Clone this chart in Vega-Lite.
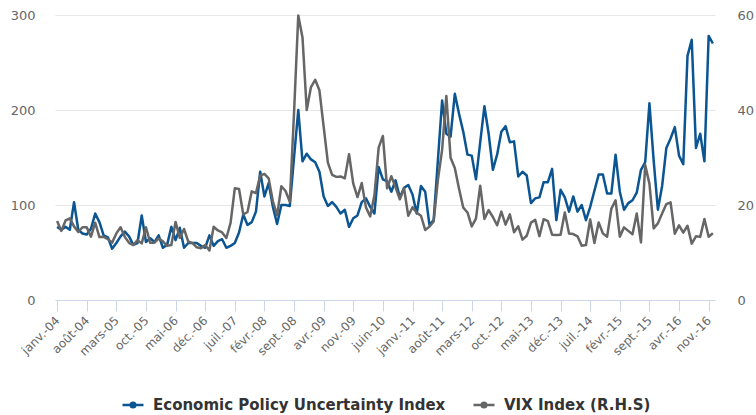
{
  "$schema": "https://vega.github.io/schema/vega-lite/v6.json",
  "width": 660,
  "height": 285,
  "autosize": {"type": "none"},
  "padding": {"left": 55, "top": 15, "right": 41, "bottom": 115},
  "background": "white",
  "config": {
    "view": {"stroke": null},
    "font": "DejaVu Sans"
  },
  "data": {
    "values": [
      {"m": "janv.-04", "epu": 77, "vix": 16.63},
      {"m": "févr.-04", "epu": 74, "vix": 14.55},
      {"m": "mars-04", "epu": 77, "vix": 16.74},
      {"m": "avr.-04", "epu": 74, "vix": 17.19},
      {"m": "mai-04", "epu": 103, "vix": 15.50},
      {"m": "juin-04", "epu": 74, "vix": 14.34},
      {"m": "juil.-04", "epu": 70, "vix": 15.32},
      {"m": "août-04", "epu": 69, "vix": 15.29},
      {"m": "sept.-04", "epu": 75, "vix": 13.34},
      {"m": "oct.-04", "epu": 91, "vix": 16.27},
      {"m": "nov.-04", "epu": 82, "vix": 13.24},
      {"m": "déc.-04", "epu": 68, "vix": 13.29},
      {"m": "janv.-05", "epu": 66, "vix": 12.82},
      {"m": "févr.-05", "epu": 54, "vix": 12.08},
      {"m": "mars-05", "epu": 60, "vix": 14.02},
      {"m": "avr.-05", "epu": 67, "vix": 15.31},
      {"m": "mai-05", "epu": 72, "vix": 13.29},
      {"m": "juin-05", "epu": 67, "vix": 12.04},
      {"m": "juil.-05", "epu": 58, "vix": 11.57},
      {"m": "août-05", "epu": 60, "vix": 12.60},
      {"m": "sept.-05", "epu": 89, "vix": 11.92},
      {"m": "oct.-05", "epu": 61, "vix": 15.32},
      {"m": "nov.-05", "epu": 65, "vix": 12.06},
      {"m": "déc.-05", "epu": 61, "vix": 12.07},
      {"m": "janv.-06", "epu": 68, "vix": 12.95},
      {"m": "févr.-06", "epu": 55, "vix": 12.34},
      {"m": "mars-06", "epu": 58, "vix": 11.39},
      {"m": "avr.-06", "epu": 77, "vix": 11.59},
      {"m": "mai-06", "epu": 63, "vix": 16.44},
      {"m": "juin-06", "epu": 76, "vix": 13.08},
      {"m": "juil.-06", "epu": 55, "vix": 14.95},
      {"m": "août-06", "epu": 60, "vix": 12.31},
      {"m": "sept.-06", "epu": 60, "vix": 11.98},
      {"m": "oct.-06", "epu": 60, "vix": 11.10},
      {"m": "nov.-06", "epu": 57, "vix": 10.91},
      {"m": "déc.-06", "epu": 55, "vix": 11.56},
      {"m": "janv.-07", "epu": 68, "vix": 10.42},
      {"m": "févr.-07", "epu": 57, "vix": 15.42},
      {"m": "mars-07", "epu": 62, "vix": 14.64},
      {"m": "avr.-07", "epu": 64, "vix": 14.22},
      {"m": "mai-07", "epu": 55, "vix": 13.05},
      {"m": "juin-07", "epu": 57, "vix": 16.23},
      {"m": "juil.-07", "epu": 60, "vix": 23.52},
      {"m": "août-07", "epu": 71, "vix": 23.38},
      {"m": "sept.-07", "epu": 90, "vix": 18.00},
      {"m": "oct.-07", "epu": 79, "vix": 18.53},
      {"m": "nov.-07", "epu": 82, "vix": 22.87},
      {"m": "déc.-07", "epu": 93, "vix": 22.50},
      {"m": "janv.-08", "epu": 135, "vix": 26.20},
      {"m": "févr.-08", "epu": 109, "vix": 26.54},
      {"m": "mars-08", "epu": 123, "vix": 25.61},
      {"m": "avr.-08", "epu": 98, "vix": 20.79},
      {"m": "mai-08", "epu": 80, "vix": 17.83},
      {"m": "juin-08", "epu": 100, "vix": 23.95},
      {"m": "juil.-08", "epu": 100, "vix": 22.94},
      {"m": "août-08", "epu": 99, "vix": 20.65},
      {"m": "sept.-08", "epu": 150, "vix": 39.39},
      {"m": "oct.-08", "epu": 200, "vix": 59.89},
      {"m": "nov.-08", "epu": 146, "vix": 55.28},
      {"m": "déc.-08", "epu": 154, "vix": 40.00},
      {"m": "janv.-09", "epu": 148, "vix": 44.84},
      {"m": "févr.-09", "epu": 145, "vix": 46.35},
      {"m": "mars-09", "epu": 135, "vix": 44.14},
      {"m": "avr.-09", "epu": 109, "vix": 36.50},
      {"m": "mai-09", "epu": 99, "vix": 28.92},
      {"m": "juin-09", "epu": 103, "vix": 26.35},
      {"m": "juil.-09", "epu": 98, "vix": 25.92},
      {"m": "août-09", "epu": 91, "vix": 26.01},
      {"m": "sept.-09", "epu": 95, "vix": 25.61},
      {"m": "oct.-09", "epu": 77, "vix": 30.69},
      {"m": "nov.-09", "epu": 86, "vix": 24.51},
      {"m": "déc.-09", "epu": 89, "vix": 21.68},
      {"m": "janv.-10", "epu": 103, "vix": 24.62},
      {"m": "févr.-10", "epu": 107, "vix": 19.50},
      {"m": "mars-10", "epu": 98, "vix": 17.59},
      {"m": "avr.-10", "epu": 91, "vix": 22.05},
      {"m": "mai-10", "epu": 140, "vix": 32.07},
      {"m": "juin-10", "epu": 127, "vix": 34.54},
      {"m": "juil.-10", "epu": 125, "vix": 23.50},
      {"m": "août-10", "epu": 114, "vix": 26.05},
      {"m": "sept.-10", "epu": 126, "vix": 23.70},
      {"m": "oct.-10", "epu": 108, "vix": 21.20},
      {"m": "nov.-10", "epu": 118, "vix": 23.54},
      {"m": "déc.-10", "epu": 121, "vix": 17.75},
      {"m": "janv.-11", "epu": 111, "vix": 19.53},
      {"m": "févr.-11", "epu": 91, "vix": 18.35},
      {"m": "mars-11", "epu": 120, "vix": 17.74},
      {"m": "avr.-11", "epu": 114, "vix": 14.75},
      {"m": "mai-11", "epu": 79, "vix": 15.45},
      {"m": "juin-11", "epu": 84, "vix": 16.52},
      {"m": "juil.-11", "epu": 147, "vix": 25.25},
      {"m": "août-11", "epu": 210, "vix": 31.62},
      {"m": "sept.-11", "epu": 175, "vix": 42.96},
      {"m": "oct.-11", "epu": 172, "vix": 29.96},
      {"m": "nov.-11", "epu": 217, "vix": 27.80},
      {"m": "déc.-11", "epu": 196, "vix": 23.40},
      {"m": "janv.-12", "epu": 177, "vix": 19.44},
      {"m": "févr.-12", "epu": 153, "vix": 18.43},
      {"m": "mars-12", "epu": 152, "vix": 15.50},
      {"m": "avr.-12", "epu": 127, "vix": 17.15},
      {"m": "mai-12", "epu": 166, "vix": 24.06},
      {"m": "juin-12", "epu": 204, "vix": 17.08},
      {"m": "juil.-12", "epu": 175, "vix": 18.93},
      {"m": "août-12", "epu": 137, "vix": 17.47},
      {"m": "sept.-12", "epu": 153, "vix": 15.73},
      {"m": "oct.-12", "epu": 177, "vix": 18.60},
      {"m": "nov.-12", "epu": 183, "vix": 15.87},
      {"m": "déc.-12", "epu": 166, "vix": 18.02},
      {"m": "janv.-13", "epu": 167, "vix": 14.28},
      {"m": "févr.-13", "epu": 130, "vix": 15.51},
      {"m": "mars-13", "epu": 135, "vix": 12.70},
      {"m": "avr.-13", "epu": 131, "vix": 13.52},
      {"m": "mai-13", "epu": 102, "vix": 16.30},
      {"m": "juin-13", "epu": 107, "vix": 16.86},
      {"m": "juil.-13", "epu": 108, "vix": 13.45},
      {"m": "août-13", "epu": 124, "vix": 17.01},
      {"m": "sept.-13", "epu": 124, "vix": 16.60},
      {"m": "oct.-13", "epu": 138, "vix": 13.75},
      {"m": "nov.-13", "epu": 84, "vix": 13.70},
      {"m": "déc.-13", "epu": 116, "vix": 13.72},
      {"m": "janv.-14", "epu": 108, "vix": 18.41},
      {"m": "févr.-14", "epu": 93, "vix": 14.00},
      {"m": "mars-14", "epu": 109, "vix": 13.88},
      {"m": "avr.-14", "epu": 93, "vix": 13.41},
      {"m": "mai-14", "epu": 100, "vix": 11.40},
      {"m": "juin-14", "epu": 84, "vix": 11.57},
      {"m": "juil.-14", "epu": 98, "vix": 16.95},
      {"m": "août-14", "epu": 115, "vix": 11.98},
      {"m": "sept.-14", "epu": 132, "vix": 16.31},
      {"m": "oct.-14", "epu": 132, "vix": 14.03},
      {"m": "nov.-14", "epu": 112, "vix": 13.33},
      {"m": "déc.-14", "epu": 112, "vix": 19.20},
      {"m": "janv.-15", "epu": 153, "vix": 20.97},
      {"m": "févr.-15", "epu": 114, "vix": 13.34},
      {"m": "mars-15", "epu": 95, "vix": 15.29},
      {"m": "avr.-15", "epu": 102, "vix": 14.55},
      {"m": "mai-15", "epu": 105, "vix": 13.84},
      {"m": "juin-15", "epu": 113, "vix": 18.23},
      {"m": "juil.-15", "epu": 137, "vix": 12.12},
      {"m": "août-15", "epu": 145, "vix": 28.43},
      {"m": "sept.-15", "epu": 207, "vix": 24.50},
      {"m": "oct.-15", "epu": 147, "vix": 15.07},
      {"m": "nov.-15", "epu": 95, "vix": 16.13},
      {"m": "déc.-15", "epu": 120, "vix": 18.21},
      {"m": "janv.-16", "epu": 160, "vix": 20.20},
      {"m": "févr.-16", "epu": 170, "vix": 20.55},
      {"m": "mars-16", "epu": 182, "vix": 13.95},
      {"m": "avr.-16", "epu": 152, "vix": 15.70},
      {"m": "mai-16", "epu": 143, "vix": 14.19},
      {"m": "juin-16", "epu": 257, "vix": 15.63},
      {"m": "juil.-16", "epu": 274, "vix": 11.87},
      {"m": "août-16", "epu": 160, "vix": 13.42},
      {"m": "sept.-16", "epu": 175, "vix": 13.29},
      {"m": "oct.-16", "epu": 146, "vix": 17.06},
      {"m": "nov.-16", "epu": 278, "vix": 13.33},
      {"m": "déc.-16", "epu": 270, "vix": 14.04}
    ]
  },
  "encoding": {
    "x": {
      "field": "m",
      "type": "ordinal",
      "sort": null,
      "scale": {"type": "point", "padding": 0.5},
      "axis": {
        "title": null,
        "values": ["janv.-04", "août-04", "mars-05", "oct.-05", "mai-06", "déc.-06", "juil.-07", "févr.-08", "sept.-08", "avr.-09", "nov.-09", "juin-10", "janv.-11", "août-11", "mars-12", "oct.-12", "mai-13", "déc.-13", "juil.-14", "févr.-15", "sept.-15", "avr.-16", "nov.-16"],
        "labelAngle": -45,
        "labelAlign": "right",
        "labelBaseline": "middle",
        "labelFontSize": 12,
        "labelColor": "#666666",
        "labelOverlap": false,
        "labelPadding": 7,
        "domainColor": "#ccd6eb",
        "tickColor": "#ccd6eb",
        "tickSize": 11,
        "grid": false
      }
    }
  },
  "layer": [
    {
      "mark": {"type": "line", "strokeWidth": 2.5, "strokeJoin": "round"},
      "encoding": {
        "y": {
          "field": "epu",
          "type": "quantitative",
          "scale": {"domain": [0, 300], "nice": false},
          "axis": {
            "orient": "left",
            "title": null,
            "values": [0, 100, 200, 300],
            "domain": false,
            "ticks": false,
            "labelPadding": 20,
            "labelFontSize": 13,
            "labelColor": "#666666",
            "grid": true,
            "gridColor": "#e6e6e6"
          }
        },
        "color": {
          "datum": "Economic Policy Uncertainty Index",
          "type": "nominal",
          "scale": {"domain": ["Economic Policy Uncertainty Index", "VIX Index (R.H.S)"], "range": ["#0b5592", "#666666"]},
          "legend": {
            "title": null,
            "orient": "none",
            "legendX": 66,
            "legendY": 378,
            "direction": "horizontal",
            "labelFontWeight": "bold",
            "labelFontSize": 15,
            "labelColor": "#333333",
            "labelLimit": 0,
            "symbolType": "M-1,0L1,0M0.22,0A0.22,0.22,0,1,1,-0.22,0A0.22,0.22,0,1,1,0.22,0",
            "symbolSize": 441,
            "symbolStrokeWidth": 2.5,
            "columnPadding": 22,
            "labelOffset": 8
          }
        }
      }
    },
    {
      "mark": {"type": "line", "strokeWidth": 2.5, "strokeJoin": "round"},
      "encoding": {
        "y": {
          "field": "vix",
          "type": "quantitative",
          "scale": {"domain": [0, 60], "nice": false},
          "axis": {
            "orient": "right",
            "title": null,
            "values": [0, 20, 40, 60],
            "domain": false,
            "ticks": false,
            "labelPadding": 22,
            "labelFontSize": 13,
            "labelColor": "#666666",
            "grid": false
          }
        },
        "color": {"datum": "VIX Index (R.H.S)", "type": "nominal"}
      }
    }
  ],
  "resolve": {"scale": {"y": "independent"}}
}
